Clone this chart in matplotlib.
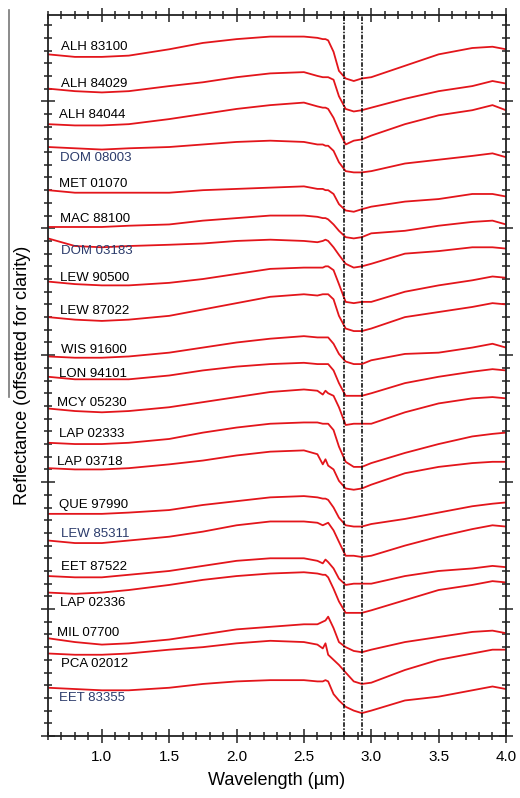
import numpy as np
import matplotlib
matplotlib.use("Agg")
import matplotlib.pyplot as plt
from matplotlib.lines import Line2D
from matplotlib.ticker import MultipleLocator

plt.rcParams['font.family'] = ['Liberation Sans', 'DejaVu Sans']

wl = [0.6, 0.8, 1.0, 1.2, 1.5, 1.75, 2.0, 2.25, 2.5, 2.6, 2.64, 2.66, 2.68,
      2.72, 2.76, 2.81, 2.87, 2.93, 3.0, 3.25, 3.5, 3.75, 3.9, 4.0]

# offset reflectance, top to bottom
alh_83100 = [5.37, 5.35, 5.35, 5.36, 5.41, 5.46, 5.49, 5.51, 5.51, 5.50, 5.49, 5.49, 5.48, 5.39, 5.24, 5.18, 5.16, 5.18, 5.19, 5.28, 5.37, 5.42, 5.43, 5.41]
alh_84029 = [5.10, 5.08, 5.07, 5.08, 5.12, 5.15, 5.19, 5.22, 5.23, 5.20, 5.19, 5.19, 5.19, 5.17, 5.04, 4.94, 4.92, 4.93, 4.95, 5.02, 5.08, 5.12, 5.16, 5.14]
alh_84044 = [4.82, 4.81, 4.81, 4.82, 4.86, 4.90, 4.94, 4.97, 4.99, 4.96, 4.95, 4.95, 4.94, 4.87, 4.77, 4.66, 4.69, 4.70, 4.73, 4.82, 4.89, 4.93, 4.97, 4.93]
dom_08003 = [4.64, 4.63, 4.62, 4.63, 4.64, 4.66, 4.68, 4.69, 4.68, 4.66, 4.66, 4.65, 4.65, 4.61, 4.52, 4.45, 4.44, 4.44, 4.45, 4.51, 4.54, 4.57, 4.59, 4.56]
met_01070 = [4.30, 4.28, 4.28, 4.28, 4.28, 4.30, 4.31, 4.32, 4.33, 4.31, 4.31, 4.30, 4.30, 4.27, 4.19, 4.14, 4.13, 4.15, 4.17, 4.21, 4.23, 4.27, 4.27, 4.25]
mac_88100 = [4.01, 4.01, 4.01, 4.02, 4.03, 4.06, 4.08, 4.10, 4.10, 4.09, 4.08, 4.08, 4.07, 4.03, 3.98, 3.93, 3.92, 3.93, 3.96, 3.98, 4.02, 4.05, 4.06, 4.03]
dom_03183 = [3.92, 3.86, 3.85, 3.86, 3.87, 3.88, 3.90, 3.91, 3.90, 3.89, 3.90, 3.91, 3.90, 3.85, 3.79, 3.72, 3.69, 3.70, 3.72, 3.80, 3.82, 3.85, 3.85, 3.84]
lew_90500 = [3.58, 3.56, 3.55, 3.55, 3.57, 3.60, 3.64, 3.68, 3.69, 3.69, 3.69, 3.70, 3.70, 3.67, 3.56, 3.42, 3.41, 3.42, 3.42, 3.50, 3.55, 3.59, 3.62, 3.61]
lew_87022 = [3.30, 3.28, 3.27, 3.28, 3.31, 3.36, 3.41, 3.46, 3.48, 3.47, 3.48, 3.48, 3.48, 3.44, 3.31, 3.21, 3.19, 3.19, 3.21, 3.30, 3.34, 3.38, 3.41, 3.40]
wis_91600 = [2.99, 2.98, 2.98, 2.99, 3.02, 3.06, 3.10, 3.13, 3.15, 3.14, 3.14, 3.14, 3.14, 3.09, 3.01, 2.95, 2.93, 2.93, 2.96, 3.01, 3.02, 3.06, 3.09, 3.06]
lon_94101 = [2.83, 2.81, 2.81, 2.81, 2.84, 2.88, 2.91, 2.93, 2.94, 2.93, 2.93, 2.93, 2.93, 2.88, 2.78, 2.68, 2.68, 2.68, 2.70, 2.78, 2.83, 2.87, 2.89, 2.88]
mcy_05230 = [2.58, 2.56, 2.55, 2.56, 2.59, 2.63, 2.67, 2.71, 2.73, 2.72, 2.69, 2.72, 2.70, 2.68, 2.59, 2.45, 2.46, 2.46, 2.46, 2.55, 2.62, 2.66, 2.67, 2.66]
lap_02333 = [2.31, 2.30, 2.30, 2.31, 2.34, 2.39, 2.43, 2.46, 2.47, 2.47, 2.46, 2.46, 2.46, 2.41, 2.28, 2.16, 2.12, 2.12, 2.15, 2.23, 2.30, 2.36, 2.38, 2.39]
lap_03718 = [2.11, 2.10, 2.10, 2.11, 2.14, 2.17, 2.21, 2.24, 2.25, 2.22, 2.14, 2.18, 2.13, 2.10, 2.01, 1.95, 1.94, 1.95, 1.98, 2.07, 2.12, 2.15, 2.16, 2.16]
que_97990 = [1.75, 1.75, 1.75, 1.76, 1.78, 1.82, 1.85, 1.88, 1.89, 1.88, 1.87, 1.87, 1.86, 1.80, 1.72, 1.66, 1.65, 1.65, 1.67, 1.71, 1.76, 1.81, 1.83, 1.84]
lew_85311 = [1.54, 1.52, 1.52, 1.54, 1.57, 1.61, 1.66, 1.69, 1.69, 1.68, 1.66, 1.67, 1.68, 1.62, 1.53, 1.42, 1.42, 1.41, 1.42, 1.50, 1.57, 1.63, 1.66, 1.65]
eet_87522 = [1.26, 1.25, 1.25, 1.27, 1.30, 1.34, 1.38, 1.40, 1.40, 1.38, 1.36, 1.39, 1.37, 1.32, 1.24, 1.19, 1.20, 1.20, 1.20, 1.26, 1.30, 1.32, 1.34, 1.33]
lap_02336 = [1.13, 1.12, 1.13, 1.15, 1.19, 1.23, 1.26, 1.28, 1.29, 1.28, 1.27, 1.27, 1.25, 1.16, 1.06, 0.97, 0.97, 0.97, 0.99, 1.07, 1.15, 1.19, 1.22, 1.21]
mil_07700 = [0.77, 0.74, 0.72, 0.73, 0.76, 0.80, 0.84, 0.86, 0.88, 0.88, 0.90, 0.91, 0.94, 0.85, 0.74, 0.70, 0.67, 0.66, 0.68, 0.74, 0.78, 0.82, 0.83, 0.81]
pca_02012 = [0.65, 0.64, 0.64, 0.65, 0.68, 0.70, 0.73, 0.75, 0.74, 0.72, 0.69, 0.73, 0.64, 0.60, 0.56, 0.50, 0.43, 0.41, 0.42, 0.52, 0.60, 0.65, 0.68, 0.68]
eet_83355 = [0.38, 0.37, 0.36, 0.36, 0.38, 0.41, 0.43, 0.44, 0.44, 0.43, 0.43, 0.44, 0.43, 0.33, 0.28, 0.23, 0.20, 0.18, 0.20, 0.28, 0.31, 0.36, 0.39, 0.37]

names = ['ALH 83100', 'ALH 84029', 'ALH 84044', 'DOM 08003', 'MET 01070',
         'MAC 88100', 'DOM 03183', 'LEW 90500', 'LEW 87022', 'WIS 91600',
         'LON 94101', 'MCY 05230', 'LAP 02333', 'LAP 03718', 'QUE 97990',
         'LEW 85311', 'EET 87522', 'LAP 02336', 'MIL 07700', 'PCA 02012',
         'EET 83355']
label_x = [0.70, 0.70, 0.68, 0.69, 0.68, 0.69, 0.70, 0.69, 0.69, 0.70, 0.68,
           0.67, 0.68, 0.67, 0.68, 0.70, 0.70, 0.69, 0.67, 0.70, 0.68]
label_y = [5.43, 5.14, 4.89, 4.55, 4.35, 4.07, 3.82, 3.61, 3.35, 3.04, 2.85,
           2.62, 2.38, 2.16, 1.82, 1.59, 1.33, 1.05, 0.81, 0.57, 0.30]
blue_labels = ['DOM 08003', 'DOM 03183', 'LEW 85311', 'EET 83355']
band_lines = [2.80, 2.93]

spectra = [alh_83100, alh_84029, alh_84044, dom_08003, met_01070, mac_88100,
           dom_03183, lew_90500, lew_87022, wis_91600, lon_94101, mcy_05230,
           lap_02333, lap_03718, que_97990, lew_85311, eet_87522, lap_02336,
           mil_07700, pca_02012, eet_83355]

fig = plt.figure(figsize=(5.2, 7.98), dpi=100)
ax = fig.add_axes([0.0923, 0.0777, 0.8807, 0.9035])

for s in spectra:
    ax.plot(wl, s, color='#e3151b', lw=1.3)

for i, n in enumerate(names):
    c = '#2b3b6b' if n in blue_labels else 'black'
    ax.text(label_x[i], label_y[i], n, fontsize=9.5, color=c, va='center', ha='left')

for b in band_lines:
    ax.axvline(b, color='black', lw=1.1, ls=(0, (3, 1, 1, 1)))

ax.set_xlim(0.6, 4.0)
ax.set_ylim(0, 5.68)
ax.xaxis.set_major_locator(MultipleLocator(0.5))
ax.xaxis.set_minor_locator(MultipleLocator(0.1))
ax.yaxis.set_major_locator(MultipleLocator(1.0))
ax.yaxis.set_minor_locator(MultipleLocator(0.1))
ax.tick_params(which='both', direction='inout', top=True, right=True, width=1.1, color='#222222')
ax.tick_params(which='major', length=10)
ax.tick_params(which='minor', length=6)
ax.tick_params(axis='x', labelsize=11, pad=5)
ax.set_yticklabels([])
for sp in ax.spines.values():
    sp.set_linewidth(1.3)
    sp.set_color('#222222')

ax.set_xlabel('Wavelength (µm)', fontsize=13, labelpad=6)
ax.set_ylabel('Reflectance (offsetted for clarity)', fontsize=13, labelpad=4)

# stray border line left of the axis title
fig.add_artist(Line2D([9 / 520, 9 / 520], [1 - 10 / 798, 1 - 397 / 798], color='#777777', lw=1.2))

plt.savefig('out.png')
